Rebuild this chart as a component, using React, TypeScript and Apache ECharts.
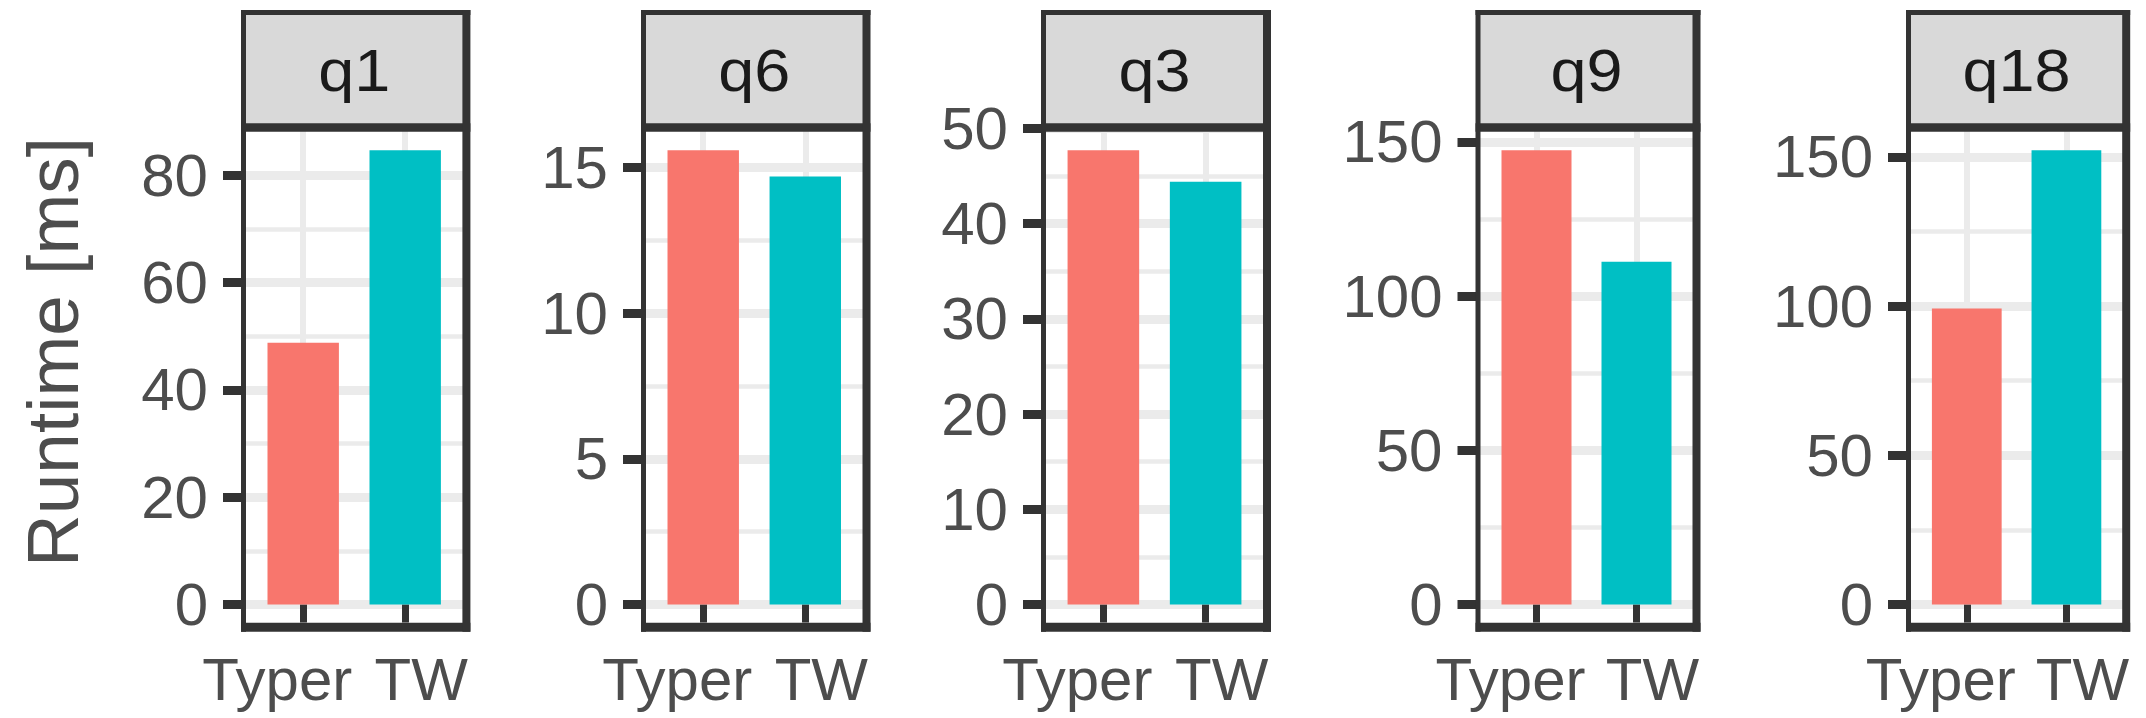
import React, { useEffect, useRef } from "react";
import * as echarts from "echarts";

// ---- data ----
const queries = ["q1", "q6", "q3", "q9", "q18"];
const systems = ["Typer", "TW"];
const typerRuntime = [48.8, 15.6, 47.7, 147.3, 99.2];
const twRuntime = [84.7, 14.7, 44.4, 111.1, 152.2];
const yTicks = [
  [0, 20, 40, 60, 80],
  [0, 5, 10, 15],
  [0, 10, 20, 30, 40, 50],
  [0, 50, 100, 150],
  [0, 50, 100, 150],
];
const systemColors = ["#F8766D", "#00BFC4"];
const yAxisTitle = "Runtime [ms]";

// ---- layout ----
const W = 2146;
const H = 718;
const panelLeft = [242, 642, 1042, 1476.5, 1907];
const panelRight = [466.4, 866.5, 1267, 1696.5, 2126.2];
const panelTop = 127.5;
const panelBottom = 627.2;
const stripTop = 10;
const FONT = "'Liberation Sans', Arial, Helvetica, sans-serif";
const DARK = "#333333";
const GRID = "#EBEBEB";

function buildOption() {
  const grid: any[] = [];
  const xAxis: any[] = [];
  const yAxis: any[] = [];
  const series: any[] = [];
  const graphic: any[] = [];

  queries.forEach((q, i) => {
    const vals = [typerRuntime[i], twRuntime[i]];
    const maxV = Math.max(...vals);
    const ticks = yTicks[i];
    const step = ticks[1] - ticks[0];
    const L = panelLeft[i];
    const R = panelRight[i];

    grid.push({
      left: L,
      top: panelTop,
      width: R - L,
      height: panelBottom - panelTop,
      show: false,
      containLabel: false,
    });

    xAxis.push({
      type: "value",
      gridIndex: i,
      min: 0.4,
      max: 2.6,
      minInterval: 1,
      maxInterval: 1,
      axisLine: { show: false },
      axisTick: {
        show: true,
        customValues: [1, 2],
        length: 18,
        lineStyle: { color: DARK, width: 7 },
      },
      axisLabel: {
        show: true,
        customValues: [1, 2],
        margin: 22,
        showMinLabel: true,
        showMaxLabel: true,
        formatter: (v: number) => {
          const idx = Math.round(v) - 1;
          return "{s" + idx + "|" + systems[idx] + "}";
        },
        rich: {
          s0: {
            fontSize: 60,
            fontFamily: FONT,
            color: "#4D4D4D",
            padding: [0, 52, 0, 0],
          },
          s1: {
            fontSize: 60,
            fontFamily: FONT,
            color: "#4D4D4D",
            padding: [0, 0, 0, 32],
          },
        },
      },
      splitLine: { show: true, lineStyle: { color: GRID, width: 6 } },
      minorSplitLine: { show: false },
    });

    yAxis.push({
      type: "value",
      gridIndex: i,
      min: -0.05 * maxV,
      max: 1.05 * maxV,
      minInterval: step,
      maxInterval: step,
      axisLine: { show: false },
      axisTick: {
        show: true,
        customValues: ticks,
        length: 19,
        lineStyle: { color: DARK, width: 9 },
      },
      axisLabel: {
        show: true,
        customValues: ticks,
        margin: 34,
        fontSize: 60,
        fontFamily: FONT,
        color: "#4D4D4D",
      },
      splitLine: { show: true, lineStyle: { color: GRID, width: 9 } },
      minorTick: { show: false, splitNumber: 2 },
      minorSplitLine: { show: true, lineStyle: { color: GRID, width: 4.5 } },
    });

    series.push({
      type: "bar",
      xAxisIndex: i,
      yAxisIndex: i,
      barWidth: "70%",
      data: vals.map((v, j) => ({
        value: [j + 1, v],
        itemStyle: { color: systemColors[j] },
      })),
    });

    // strip background
    graphic.push({
      type: "rect",
      z: 5,
      shape: { x: L, y: stripTop, width: R - L, height: panelTop - stripTop },
      style: { fill: "#D9D9D9" },
    });
    // borders
    const borders = [
      { x: L - 1, y: stripTop, width: R - L + 5, height: 5 },
      { x: L - 1, y: panelTop - 4.2, width: R - L + 5, height: 8.4 },
      { x: L - 1, y: panelBottom - 4.5, width: R - L + 5, height: 9 },
      { x: L - 1, y: stripTop, width: 5, height: panelBottom + 4.5 - stripTop },
      { x: R - 4, y: stripTop, width: 8, height: panelBottom + 4.5 - stripTop },
    ];
    borders.forEach((b) =>
      graphic.push({ type: "rect", z: 50, shape: b, style: { fill: DARK } })
    );
    // strip label
    graphic.push({
      type: "text",
      z: 60,
      x: (L + R) / 2,
      y: (stripTop + panelTop) / 2 + 1,
      scaleX: 1.08,
      style: {
        text: q,
        fontSize: 60,
        fontFamily: FONT,
        fill: "#1A1A1A",
        textAlign: "center",
        textVerticalAlign: "middle",
        verticalAlign: "middle",
      },
    });
  });

  graphic.push({
    type: "text",
    z: 60,
    x: 52.5,
    y: 352,
    rotation: Math.PI / 2,
    style: {
      text: yAxisTitle,
      fontSize: 73,
      fontFamily: FONT,
      fill: "#4D4D4D",
      textAlign: "center",
      textVerticalAlign: "middle",
      verticalAlign: "middle",
    },
  });

  return {
    animation: false,
    backgroundColor: "#FFFFFF",
    textStyle: { fontFamily: FONT },
    grid,
    xAxis,
    yAxis,
    series,
    graphic: { elements: graphic },
  };
}

export default function App() {
  const ref = useRef<HTMLDivElement>(null);
  useEffect(() => {
    if (!ref.current) return;
    const chart = echarts.init(ref.current, undefined, { renderer: "svg" });
    chart.setOption(buildOption() as any);
    return () => chart.dispose();
  }, []);
  return (
    <div
      ref={ref}
      style={{ position: "fixed", left: 0, top: 0, width: W, height: H }}
    />
  );
}
